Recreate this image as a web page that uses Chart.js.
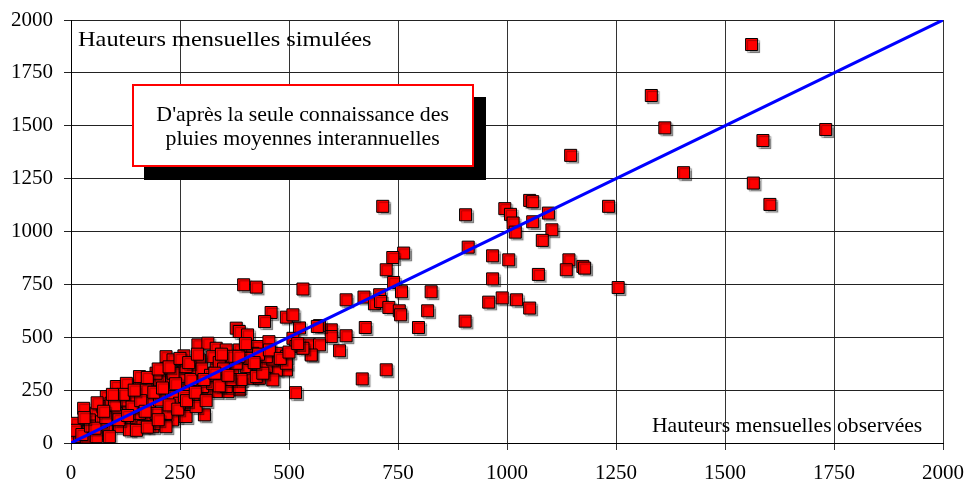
<!DOCTYPE html>
<html>
<head>
<meta charset="utf-8">
<script src="https://cdn.jsdelivr.net/npm/chart.js@4/dist/chart.umd.min.js"></script>
<style>
  body { margin: 0; background: #fff; }
  #wrap { position: relative; width: 968px; height: 488px; }
  .txt { position: absolute; font-family: "Liberation Serif", "Times New Roman", serif; font-size: 21px; line-height: 20px; color: #000; white-space: nowrap; transform-origin: 0 0; }
  #boite {
    position: absolute; left: 132px; top: 84px; width: 338px; height: 63px;
    background: #fff; border: 2px solid #ff0000; box-shadow: 12px 13px 0 #000;
    font-family: "Liberation Serif", "Times New Roman", serif; font-size: 21px; line-height: 24px;
    text-align: center; padding-top: 16px; box-sizing: content-box;
  }
  #boite span { display: inline-block; transform: scaleX(1.04); }
</style>
</head>
<body>
<div id="wrap">
  <canvas id="graphique" width="968" height="488"></canvas>
  <div class="txt" style="left:78px; top:29px; transform: scaleX(1.16);">Hauteurs mensuelles simulées</div>
  <div class="txt" style="left:652px; top:415px; transform: scaleX(1.03);">Hauteurs mensuelles observées</div>
  <div id="boite"><span>D'après la seule connaissance des<br>pluies moyennes interannuelles</span></div>
</div>
<script>
// === données ===
const axeMin = 0;
const axeMax = 2000;
const pasGraduation = 250;

// hauteurs observées (x) et simulées (y), en mm
const hauteursObservees = [
  1561, 1331, 1362, 1731, 1587, 1405, 1565, 1603, 1233, 1255, 1146,
  715, 905, 1052, 1059, 995, 1008, 1014, 1019, 1059, 1095, 1103, 1081, 911, 967, 1004, 1142, 1174, 1178, 1136,
  1072, 967, 763, 738, 723, 740, 758, 826, 708, 672, 631, 696, 710, 729, 753, 756, 818, 904, 958, 989, 1022,
  1052, 797, 675, 631, 597, 597, 570, 532, 524, 616, 551, 723, 668, 547, 570,
  396, 425, 459, 444, 494, 509, 379, 386, 405, 565, 515, 306, 29,
  218, 259, 291, 314, 333, 356, 362, 386, 406, 428, 454, 471, 494, 494, 471, 509, 516, 551, 532, 413, 432,
  386, 360, 333, 310, 295, 287, 249, 257, 241, 233, 226, 218, 180, 157, 134, 104, 81, 119, 92, 65, 42, 20,
  4, 0, 58, 73, 104, 127, 150, 172, 188, 203, 157, 180, 203, 234, 264, 280, 302, 325, 348, 371, 402, 425,
  448, 463, 425, 379, 333, 310, 280, 257, 234, 203, 172, 142, 119, 111, 81, 134, 165, 218, 264, 287, 249,
  218, 195, 386, 356, 463, 494, 448, 417, 356, 325, 295, 264, 234, 195, 157, 127, 92, 42, 20, 35, 58, 88, 12,
  10, 25, 45, 70, 55, 30, 80, 100, 120, 140, 160, 170, 190, 210, 240, 260, 275, 300, 320, 340, 350, 370,
  390, 410, 430, 440, 455, 480, 500, 520, 60, 75, 95, 110, 130, 145, 175, 200, 225, 250, 270, 290, 305,
  330, 345, 365, 385, 400, 420, 150, 175, 200, 225, 245, 265, 285, 310, 340, 360
];
const hauteursSimulees = [
  1884, 1643, 1490, 1482, 1430, 1278, 1229, 1128, 1119, 735, 1360,
  1119, 1079, 1147, 1141, 1108, 1081, 1040, 997, 1046, 1087, 1008, 958, 926, 885, 866, 866, 835, 827, 819,
  797, 776, 898, 877, 819, 759, 715, 715, 701, 690, 677, 658, 669, 641, 625, 606, 625, 576, 666, 686, 677,
  638, 546, 546, 507, 535, 503, 555, 728, 544, 436, 420, 346, 303, 464, 464,
  748, 737, 617, 574, 595, 606, 543, 527, 511, 551, 238, 133, 164,
  408, 412, 464, 472, 448, 440, 393, 440, 456, 456, 479, 424, 408, 345, 345, 495, 456, 416, 448, 306, 306,
  251, 243, 243, 251, 267, 298, 314, 164, 125, 109, 298, 353, 274, 267, 235, 267, 219, 156, 93, 46, 54, 77,
  46, 22, 140, 172, 140, 109, 93, 109, 77, 93, 140, 188, 203, 219, 251, 203, 267, 282, 298, 330, 361, 377,
  361, 393, 314, 377, 361, 330, 345, 361, 330, 298, 251, 203, 203, 77, 62, 62, 77, 77, 125, 172, 188,
  140, 140, 267, 267, 298, 377, 408, 424, 393, 408, 393, 361, 393, 330, 314, 282, 188, 109, 30, 14, 30, 30, 93,
  60, 40, 80, 100, 70, 120, 120, 180, 230, 170, 200, 150, 240, 260, 280, 220, 300, 350, 320, 380, 350, 410,
  300, 400, 420, 330, 440, 400, 430, 470, 190, 150, 230, 110, 130, 250, 310, 350, 360, 400, 380, 420, 300,
  330, 420, 300, 410, 470, 380, 60, 75, 110, 180, 160, 200, 240, 200, 270, 320
];

// droite y = x
const droiteX = [0, 2000];
const droiteY = [0, 2000];

const pointsNuage = hauteursObservees.map((x, i) => ({ x: x, y: hauteursSimulees[i] }));
const pointsDroite = droiteX.map((x, i) => ({ x: x, y: droiteY[i] }));

const policeSerif = "'Liberation Serif', 'Times New Roman', serif";

// ombre grise sous les carrés
const ombrePoints = {
  id: "ombrePoints",
  beforeDatasetDraw(chart, args) {
    if (args.index !== 1) return;
    const ctx = chart.ctx;
    ctx.save();
    ctx.shadowColor = "rgba(0,0,0,0.35)";
    ctx.shadowOffsetX = 2;
    ctx.shadowOffsetY = 2;
    ctx.shadowBlur = 1;
  },
  afterDatasetDraw(chart, args) {
    if (args.index !== 1) return;
    chart.ctx.restore();
  }
};

function dessinerGraphique() {
  new Chart(document.getElementById("graphique"), {
    type: "scatter",
    data: {
      datasets: [
        {
          type: "line",
          data: pointsDroite,
          borderColor: "#0000ff",
          borderWidth: 3,
          pointRadius: 0,
          fill: false,
          order: 0
        },
        {
          data: pointsNuage,
          pointStyle: "rect",
          pointRadius: 8.5,
          backgroundColor: "#ff0000",
          borderColor: "#000000",
          borderWidth: 1,
          order: 1
        }
      ]
    },
    plugins: [ombrePoints],
    options: {
      responsive: false,
      animation: false,
      layout: { padding: { top: 20, right: 25, left: 0, bottom: 0 } },
      plugins: { legend: { display: false }, tooltip: { enabled: false } },
      scales: {
        x: {
          type: "linear",
          min: axeMin,
          max: axeMax,
          afterFit: (s) => { s.height = 45; s.paddingLeft = 0; s.paddingRight = 0; },
          ticks: { stepSize: pasGraduation, color: "#000", padding: 11, maxRotation: 0, callback: (v) => String(v), font: { family: policeSerif, size: 21 } },
          grid: { color: "#333", lineWidth: 1, tickLength: 7 },
          border: { color: "#000", width: 1 }
        },
        y: {
          min: axeMin,
          max: axeMax,
          afterFit: (s) => { s.width = 71; s.paddingTop = 0; s.paddingBottom = 0; },
          ticks: { stepSize: pasGraduation, color: "#000", padding: 11, callback: (v) => String(v), font: { family: policeSerif, size: 21 } },
          grid: { color: "#222", lineWidth: 1, tickLength: 7 },
          border: { color: "#000", width: 1 }
        }
      }
    }
  });
}

// attendre la police avant de dessiner sur le canvas
document.fonts.load("21px 'Liberation Serif'").then(dessinerGraphique, dessinerGraphique);
</script>
</body>
</html>
